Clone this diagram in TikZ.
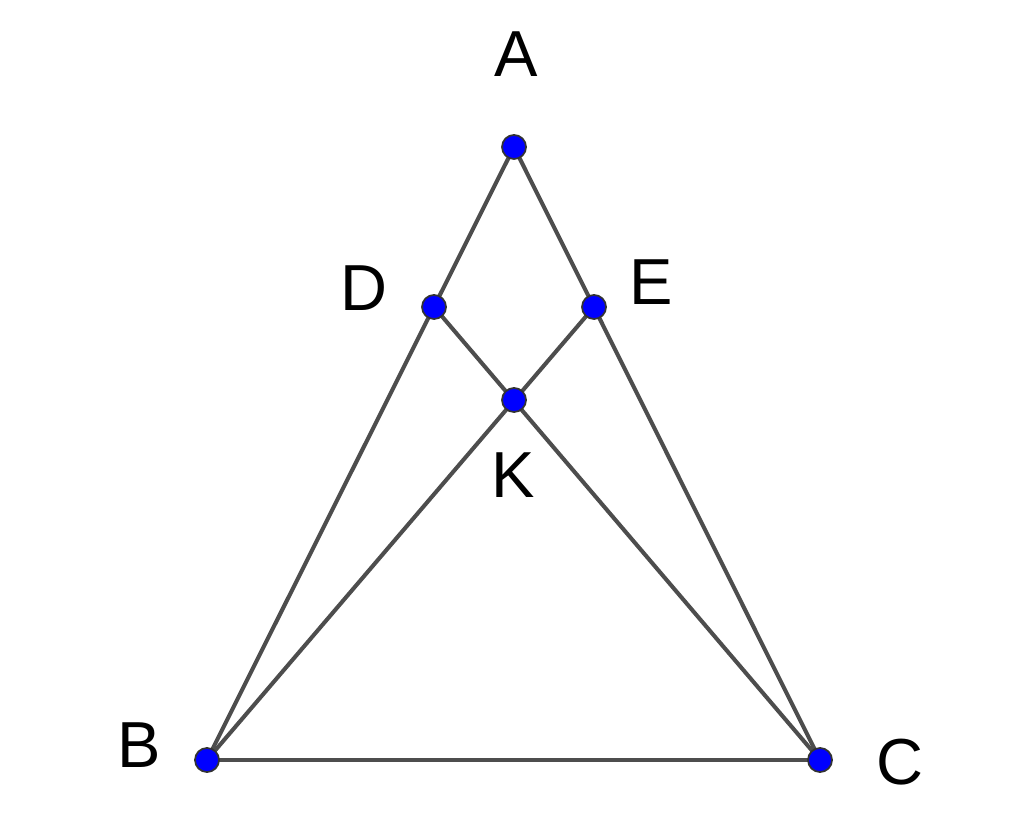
\documentclass[tikz,border=0pt]{standalone}
\usepackage{fontspec}
\setmainfont{Liberation Sans}
\usetikzlibrary{arrows}
\definecolor{segcol}{RGB}{77,77,77}
\definecolor{ptblue}{RGB}{0,0,255}
\begin{document}
\begin{tikzpicture}[x=0.01cm,y=-0.01cm]
\tikzstyle{every node}=[minimum width=0pt, inner sep=0pt]
\tikzstyle{pt}=[circle, draw=black!80, line width=0.5pt, fill=ptblue, minimum size=0.24cm]
\tikzstyle{lbl}=[font=\fontsize{18.5}{22}\selectfont]
\tikzstyle{seg}=[draw=segcol, line width=1.15pt]
\useasboundingbox (0,0) rectangle (1024,837);
\coordinate (A) at (514,147);
\coordinate (B) at (207,760);
\coordinate (C) at (820,760);
\coordinate (D) at (434,307);
\coordinate (E) at (594,307);
\coordinate (K) at (514,400);
\draw[seg] (A) -- (B);
\draw[seg] (A) -- (C);
\draw[seg] (B) -- (C);
\draw[seg] (D) -- (C);
\draw[seg] (E) -- (B);
\node (pA) [pt] at (A) {};
\node (pB) [pt] at (B) {};
\node (pC) [pt] at (C) {};
\node (pD) [pt] at (D) {};
\node (pE) [pt] at (E) {};
\node (pK) [pt] at (K) {};
\node (lA) [lbl] at (516,54) {A};
\node (lB) [lbl] at (139,745) {B};
\node (lC) [lbl] at (900,762) {C};
\node (lD) [lbl] at (364,288) {D};
\node (lE) [lbl] at (651,282) {E};
\node (lK) [lbl] at (513,475) {K};
\end{tikzpicture}
\end{document}
